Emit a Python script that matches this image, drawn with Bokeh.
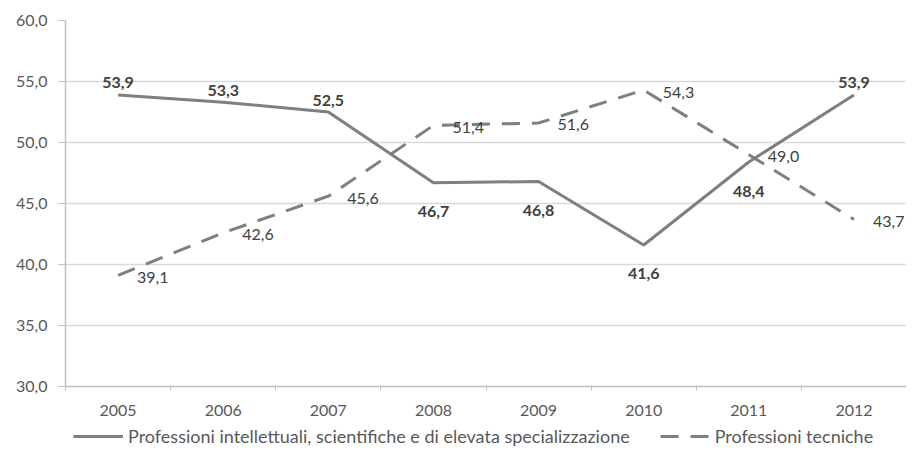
from bokeh.plotting import figure
from bokeh.layouts import column
from bokeh.models import (ColumnDataSource, Range1d, FixedTicker, CustomJSTickFormatter,
                          LabelSet, Legend, LegendItem)
from bokeh.core.properties import value
from bokeh.embed import file_html
from bokeh.resources import INLINE

# ---- data ----
years = [2005, 2006, 2007, 2008, 2009, 2010, 2011, 2012]
intellettuali = [53.9, 53.3, 52.5, 46.7, 46.8, 41.6, 48.4, 53.9]
tecniche = [39.1, 42.6, 45.6, 51.4, 51.6, 54.3, 49.0, 43.7]
y_ticks = [30, 35, 40, 45, 50, 55, 60]
series_names = ["Professioni intellettuali, scientifiche e di elevata specializzazione",
                "Professioni tecniche"]

def fmt(v):
    return f"{v:.1f}".replace(".", ",")

FONT = "Lato"
AXIS_COL = "#595959"
LBL_COL = "#404040"
LINE_COL = "#7f7f7f"
DASH = "18 12"

p = figure(frame_width=841, frame_height=366, output_backend="svg", toolbar_location=None,
           x_range=Range1d(2004.5, 2012.5), y_range=Range1d(30, 60),
           min_border_left=65, min_border_right=0, min_border_top=20, min_border_bottom=0)
p.outline_line_color = None
p.background_fill_color = "white"
p.border_fill_color = "white"

# axes
p.xaxis.ticker = FixedTicker(ticks=years, minor_ticks=[y + 0.5 for y in [2004] + years])
p.xaxis.major_tick_line_color = None
p.xaxis.major_tick_out = 0
p.xaxis.minor_tick_line_color = "#bfbfbf"
p.xaxis.minor_tick_out = 4
p.xaxis.minor_tick_in = 1
p.xaxis.axis_line_color = "#bfbfbf"
p.xaxis.axis_line_width = 1.5
p.xaxis.major_label_standoff = 14
p.xaxis.major_label_text_font = FONT
p.xaxis.major_label_text_font_size = "16px"
p.xaxis.major_label_text_color = AXIS_COL
p.xgrid.grid_line_color = None

p.yaxis.ticker = FixedTicker(ticks=y_ticks)
p.yaxis.formatter = CustomJSTickFormatter(code="return tick.toFixed(1).replace('.', ',');")
p.yaxis.major_tick_line_color = "#bfbfbf"
p.yaxis.major_tick_out = 7
p.yaxis.major_tick_in = 0
p.yaxis.minor_tick_line_color = None
p.yaxis.axis_line_color = "#bfbfbf"
p.yaxis.axis_line_width = 1.5
p.yaxis.major_label_standoff = 11
p.yaxis.major_label_text_font = FONT
p.yaxis.major_label_text_font_size = "16px"
p.yaxis.major_label_text_color = AXIS_COL
p.ygrid.ticker = FixedTicker(ticks=y_ticks)
p.ygrid.grid_line_color = "#d9d9d9"
p.ygrid.grid_line_width = 1.5

# lines
p.line(years, intellettuali, line_color=LINE_COL, line_width=3)
p.line(years, tecniche, line_color=LINE_COL, line_width=3, line_dash=DASH)

# labels for solid series: above when above the other series, otherwise below
above = [i for i in range(len(years)) if intellettuali[i] >= tecniche[i]]
below = [i for i in range(len(years)) if intellettuali[i] < tecniche[i]]
src_above = ColumnDataSource(dict(x=[years[i] for i in above], y=[intellettuali[i] for i in above],
                                  t=[fmt(intellettuali[i]) for i in above]))
src_below = ColumnDataSource(dict(x=[years[i] for i in below], y=[intellettuali[i] for i in below],
                                  t=[fmt(intellettuali[i]) for i in below]))
src_dash = ColumnDataSource(dict(x=years, y=tecniche, t=[fmt(v) for v in tecniche]))

common = dict(text_font=value(FONT), text_font_size=value("16px"), text_color=LBL_COL,
              text_baseline="middle")
p.add_layout(LabelSet(x="x", y="y", text="t", source=src_above, text_align="center",
                      y_offset=12, text_font_style="bold", **common))
p.add_layout(LabelSet(x="x", y="y", text="t", source=src_below, text_align="center",
                      y_offset=-29, text_font_style="bold", **common))
p.add_layout(LabelSet(x="x", y="y", text="t", source=src_dash, text_align="left",
                      x_offset=19, y_offset=-2, **common))

# ---- legend strip below the chart ----
lg = figure(width=906, height=30, output_backend="svg", toolbar_location=None,
            x_range=Range1d(0, 1), y_range=Range1d(0, 1),
            min_border_left=0, min_border_right=0, min_border_top=0, min_border_bottom=0)
lg.axis.visible = False
lg.grid.visible = False
lg.outline_line_color = None
lg.background_fill_color = "white"
lg.border_fill_color = "white"
# proxy renderers (outside the visible range) that only provide legend glyphs
d1 = lg.line([5, 6], [5, 5], line_color=LINE_COL, line_width=3)
d2 = lg.line([5, 6], [5, 5], line_color=LINE_COL, line_width=3, line_dash=DASH)

legend = Legend(items=[LegendItem(label=series_names[0], renderers=[d1]),
                       LegendItem(label=series_names[1], renderers=[d2])],
                orientation="horizontal", location=(8, 1),
                label_text_font=FONT, label_text_font_size="18px", label_text_color=AXIS_COL,
                glyph_width=50, glyph_height=14, label_standoff=5, spacing=30,
                label_height=18,
                border_line_color=None, background_fill_alpha=0,
                margin=0, padding=0)
lg.add_layout(legend, "center")

open("out.html", "w").write(file_html(column(p, lg), INLINE))
